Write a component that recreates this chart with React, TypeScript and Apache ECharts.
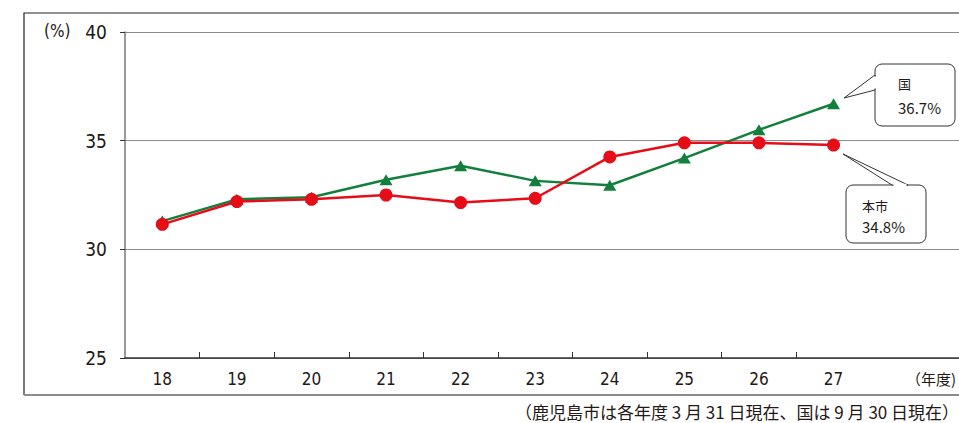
import React, { useEffect, useRef } from "react";
import * as echarts from "echarts";

const years = ["18", "19", "20", "21", "22", "23", "24", "25", "26", "27"];
const cityValues = [31.15, 32.2, 32.3, 32.5, 32.15, 32.35, 34.25, 34.9, 34.9, 34.8];
const nationValues = [31.3, 32.3, 32.4, 33.2, 33.85, 33.15, 32.95, 34.2, 35.5, 36.7];
const cityName = "本市";
const nationName = "国";
const yMin = 25;
const yMax = 40;
const yStep = 5;
const unitLabel = "(%)";
const xUnitLabel = "（年度)";
const footnote = "（鹿児島市は各年度 3 月 31 日現在、国は 9 月 30 日現在）";

const NUM_FONT = "'Liberation Sans Narrow', 'DejaVu Sans Condensed', 'Roboto', sans-serif";
const JP_FONT = "'Noto Sans CJK JP', sans-serif";
const TEXT = "#231815";
const GREEN = "#12803c";
const RED = "#e60c18";

function callout(
  box: { x: number; y: number; w: number; h: number },
  pointer: number[][],
  base: number[][],
  title: string,
  value: string,
  textX: number,
  titleY: number,
  valueY: number
) {
  return [
    {
      type: "rect",
      shape: { x: box.x, y: box.y, width: box.w, height: box.h, r: 7 },
      style: { fill: "#fff", stroke: "#333", lineWidth: 1 },
      z: 100,
    },
    {
      type: "polygon",
      shape: { points: pointer },
      style: { fill: "#fff", stroke: "#333", lineWidth: 1 },
      z: 101,
    },
    {
      type: "line",
      shape: { x1: base[0][0], y1: base[0][1], x2: base[1][0], y2: base[1][1] },
      style: { stroke: "#fff", lineWidth: 2.5 },
      z: 102,
    },
    {
      type: "text",
      x: textX,
      y: titleY,
      style: { text: title, font: `13px ${JP_FONT}`, fill: TEXT, textVerticalAlign: "middle" },
      z: 103,
    },
    {
      type: "text",
      x: textX,
      y: valueY,
      style: { text: value, font: `15px ${JP_FONT}`, fill: TEXT, textVerticalAlign: "middle" },
      z: 103,
    },
  ];
}

export default function App() {
  const ref = useRef<HTMLDivElement>(null);
  useEffect(() => {
    if (!ref.current) return;
    const chart = echarts.init(ref.current, null, { renderer: "svg" });
    const cats = [...years, "", ""];
    const last = years.length - 1;
    const option: any = {
      animation: false,
      backgroundColor: "#fff",
      grid: { left: 125, top: 32, bottom: 65, right: 0, containLabel: false },
      xAxis: {
        type: "category",
        data: cats,
        boundaryGap: true,
        axisLine: { lineStyle: { color: "#333", width: 1.5 } },
        axisTick: {
          show: true,
          inside: true,
          length: 6,
          interval: (i: number) => i >= 1 && i <= last,
          lineStyle: { color: "#333", width: 1 },
        },
        axisLabel: {
          interval: 0,
          margin: 12,
          fontSize: 17,
          fontFamily: NUM_FONT,
          color: TEXT,
        },
        splitLine: { show: false },
      },
      yAxis: {
        type: "value",
        min: yMin,
        max: yMax,
        interval: yStep,
        axisLine: { show: true, lineStyle: { color: "#777", width: 1.5 } },
        axisTick: { show: true, length: 5, lineStyle: { color: "#333" } },
        axisLabel: { margin: 18, fontSize: 19, fontFamily: NUM_FONT, color: TEXT },
        splitLine: { show: true, lineStyle: { color: "#8a8a8a", width: 1 } },
      },
      series: [
        {
          name: nationName,
          type: "line",
          data: nationValues,
          symbol: "triangle",
          symbolSize: [13, 11],
          itemStyle: { color: GREEN },
          lineStyle: { color: GREEN, width: 2.5 },
          z: 2,
        },
        {
          name: cityName,
          type: "line",
          data: cityValues,
          symbol: "circle",
          symbolSize: 13,
          itemStyle: { color: RED },
          lineStyle: { color: RED, width: 2.5 },
          z: 3,
        },
      ],
      graphic: [
        {
          type: "polyline",
          shape: { points: [[1020, 13], [24, 13], [24, 395]] },
          style: { stroke: "#222", lineWidth: 1.2, fill: "none" },
          z: 50,
        },
        {
          type: "line",
          shape: { x1: 24, y1: 395, x2: 1020, y2: 395 },
          style: { stroke: "#8c8c8c", lineWidth: 2 },
          z: 50,
        },
        {
          type: "text",
          x: 44,
          y: 31,
          style: { text: unitLabel, font: `17px ${NUM_FONT}`, fill: TEXT, textVerticalAlign: "middle" },
          z: 50,
        },
        {
          type: "text",
          x: 906,
          y: 378,
          style: { text: xUnitLabel, font: `15px ${JP_FONT}`, fill: TEXT, textVerticalAlign: "middle" },
          z: 50,
        },
        {
          type: "text",
          x: 515,
          y: 411,
          style: { text: footnote, font: `17px ${JP_FONT}`, fill: TEXT, textVerticalAlign: "middle" },
          z: 50,
        },
        ...callout(
          { x: 875, y: 64, w: 80, h: 62 },
          [[875, 75], [844, 98], [875, 90]],
          [[875, 76.5], [875, 88.5]],
          nationName,
          `${nationValues[last]}%`,
          898,
          83,
          107
        ),
        ...callout(
          { x: 846, y: 185, w: 80, h: 58 },
          [[892, 185], [843, 154], [908, 185]],
          [[893.5, 185], [906.5, 185]],
          cityName,
          `${cityValues[last]}%`,
          862,
          205,
          226
        ),
      ],
    };
    chart.setOption(option);
    return () => chart.dispose();
  }, []);
  return (
    <div style={{ position: "absolute", left: 0, top: 0, width: 959, height: 423, overflow: "hidden" }}>
      <div ref={ref} style={{ width: 1020, height: 423 }} />
    </div>
  );
}
